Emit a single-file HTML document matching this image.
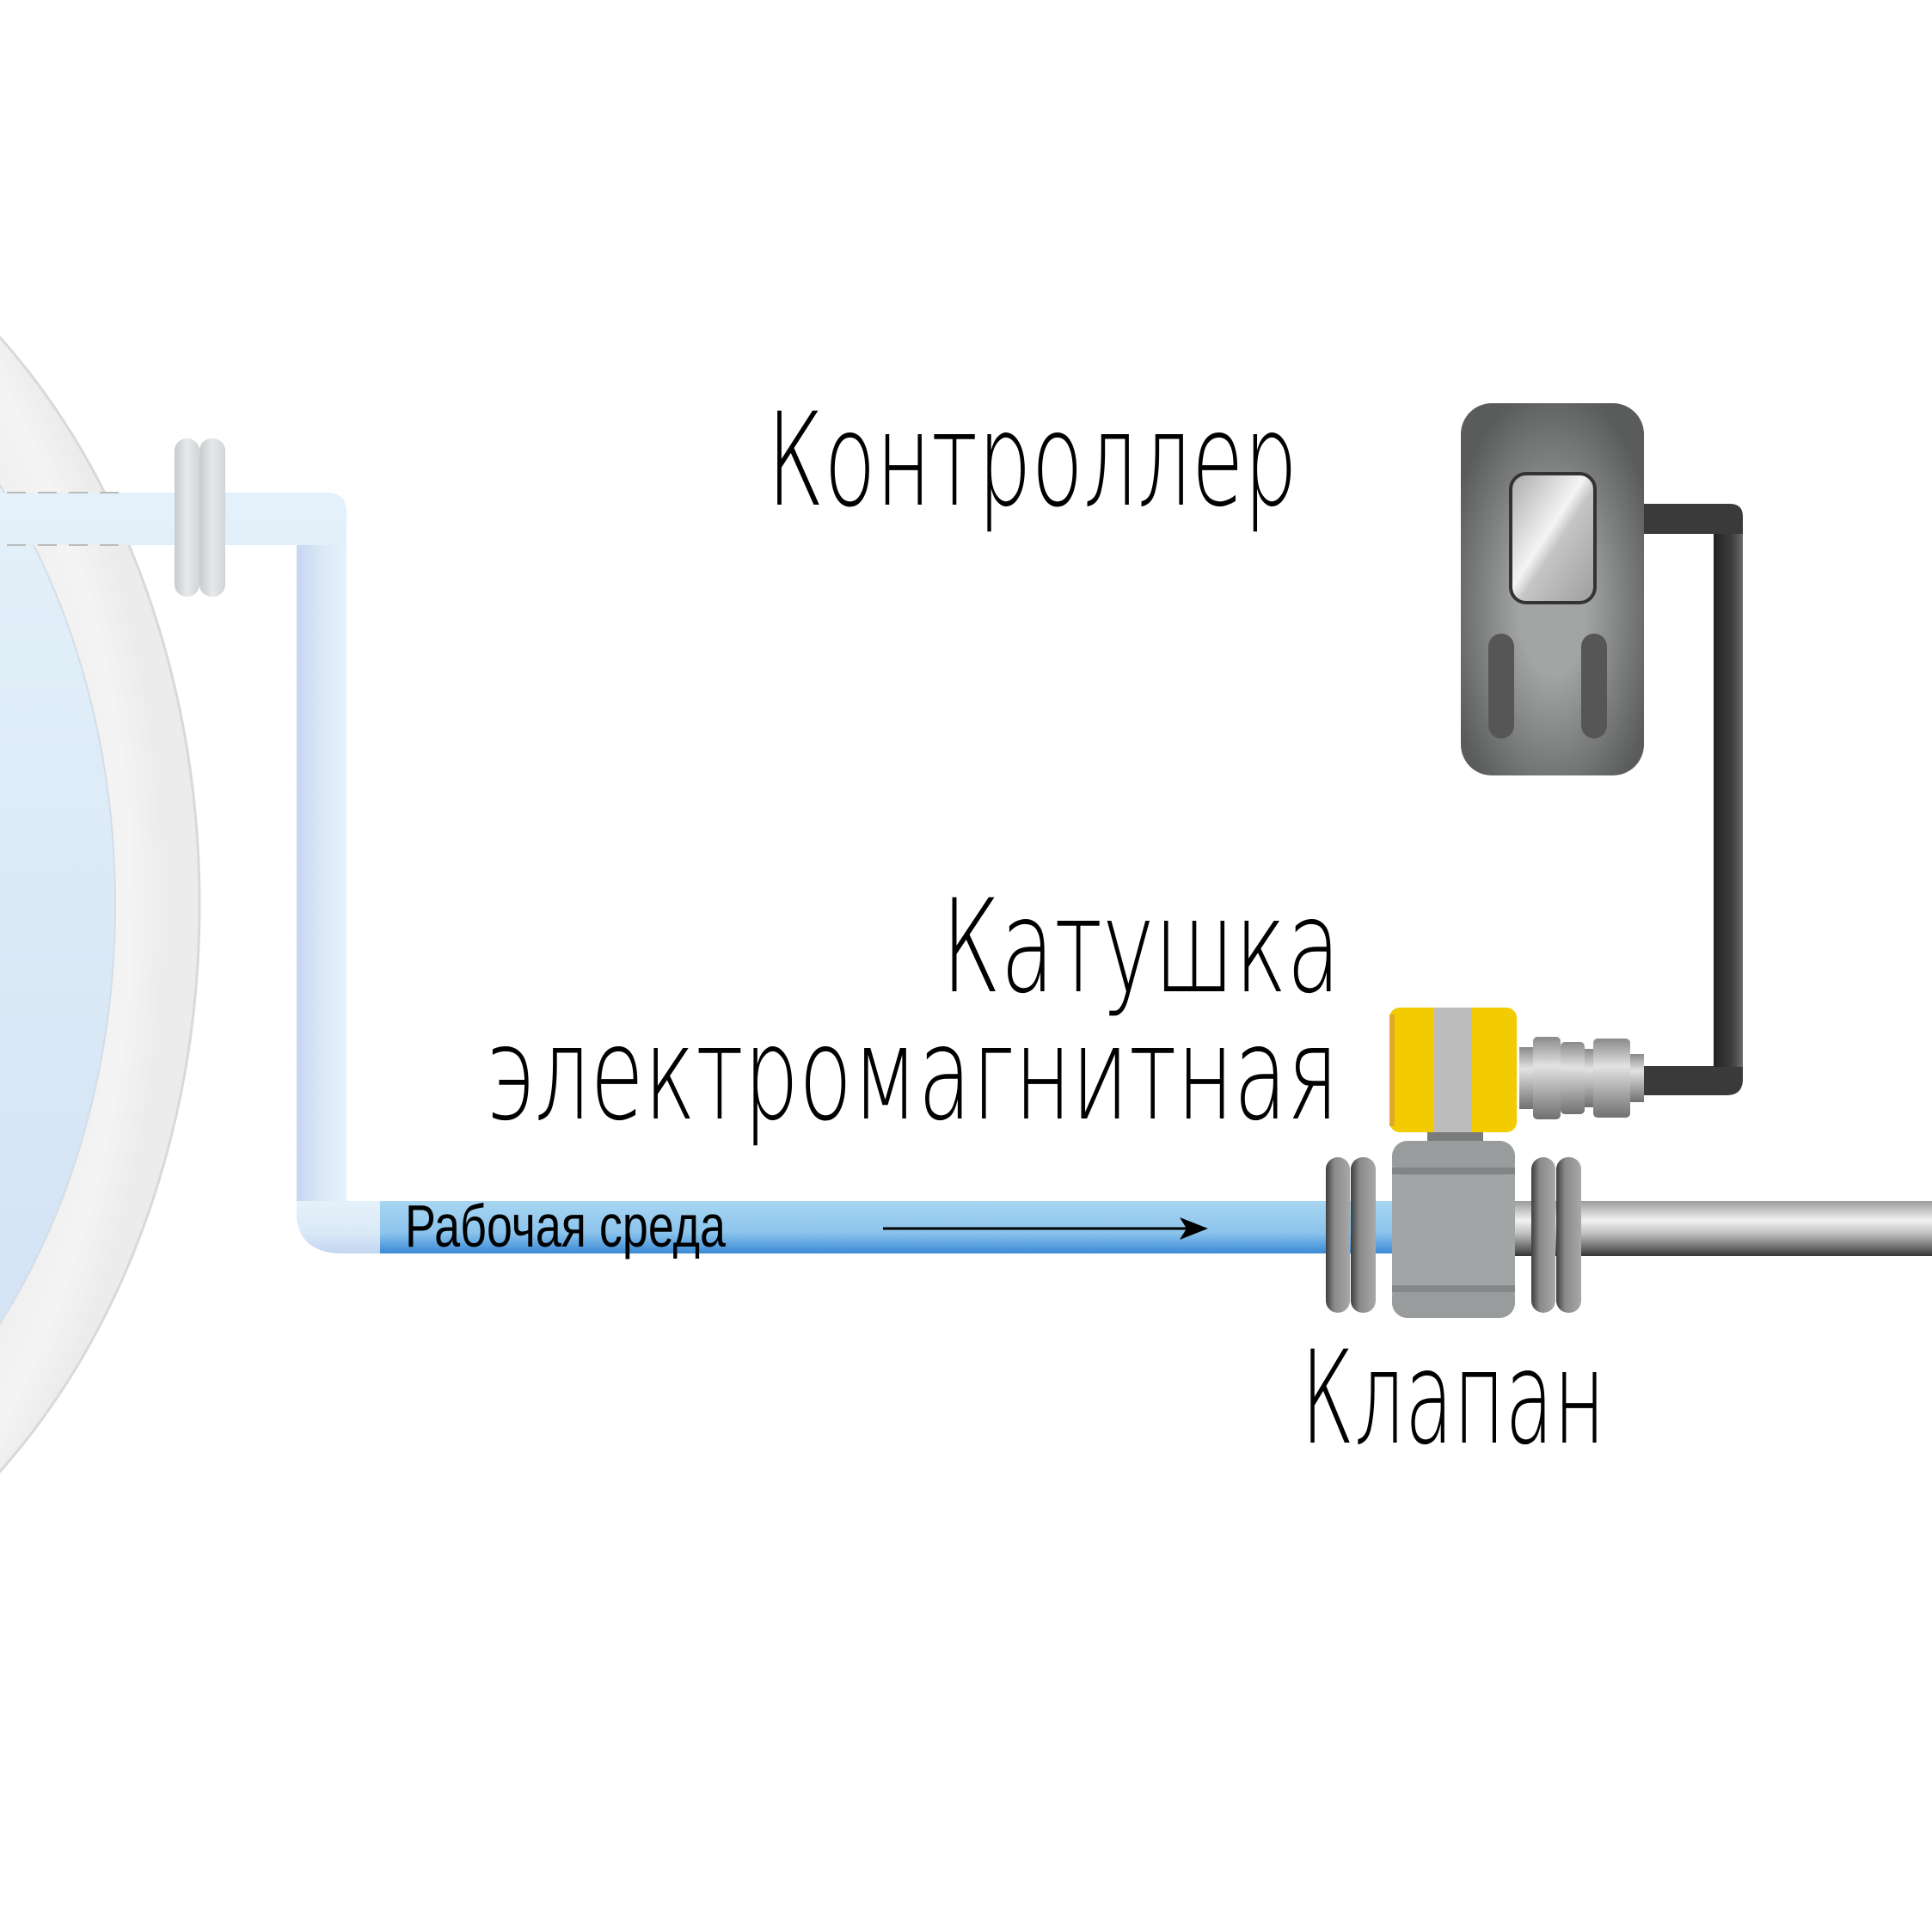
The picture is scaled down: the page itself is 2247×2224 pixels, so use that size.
<!DOCTYPE html>
<html><head><meta charset="utf-8"><style>
html,body{margin:0;padding:0;background:#fff;}
svg{display:block;}
.t{font-family:"DejaVu Sans","Liberation Sans",sans-serif;font-weight:200;fill:#000;}
</style></head><body>
<svg width="2247" height="2224" viewBox="0 0 2247 2224" xmlns="http://www.w3.org/2000/svg">
<defs>
<radialGradient id="ring" cx="0.35" cy="0.5" r="0.62">
<stop offset="0.55" stop-color="#c9c9c9"/><stop offset="0.75" stop-color="#e6e6e6"/><stop offset="0.95" stop-color="#f4f4f4"/><stop offset="1" stop-color="#ececec"/></radialGradient>
<linearGradient id="inner" x1="0" y1="0" x2="0" y2="1"><stop offset="0" stop-color="#e8f4fb"/><stop offset="1" stop-color="#cfe0f3"/></linearGradient>
<linearGradient id="vpipe" x1="0" y1="0" x2="1" y2="0"><stop offset="0" stop-color="#c5d6f0"/><stop offset="0.5" stop-color="#dbe8f6"/><stop offset="1" stop-color="#e6f2fa"/></linearGradient>
<linearGradient id="hpipe" x1="0" y1="0" x2="0" y2="1"><stop offset="0" stop-color="#e4f1fa"/><stop offset="0.6" stop-color="#dbe9f7"/><stop offset="1" stop-color="#c3d5f0"/></linearGradient>
<linearGradient id="blue" x1="0" y1="0" x2="0" y2="1"><stop offset="0" stop-color="#a8d6f2"/><stop offset="0.6" stop-color="#8cc4ec"/><stop offset="1" stop-color="#3a8ad6"/></linearGradient>
<linearGradient id="steel" x1="0" y1="0" x2="0" y2="1"><stop offset="0" stop-color="#9a9a9a"/><stop offset="0.35" stop-color="#f2f2f2"/><stop offset="0.6" stop-color="#bdbdbd"/><stop offset="0.9" stop-color="#5a5a5a"/><stop offset="1" stop-color="#333"/></linearGradient>
<linearGradient id="flange" x1="0" y1="0" x2="1" y2="0"><stop offset="0" stop-color="#3e3e3e"/><stop offset="0.35" stop-color="#8a8a8a"/><stop offset="1" stop-color="#a8a8a8"/></linearGradient>
<linearGradient id="wflange" x1="0" y1="0" x2="1" y2="0"><stop offset="0" stop-color="#c8cbcd"/><stop offset="0.5" stop-color="#e6e8e9"/><stop offset="1" stop-color="#d2d4d5"/></linearGradient>
<radialGradient id="ctrl" cx="0.5" cy="0.55" r="0.6"><stop offset="0.3" stop-color="#a3a5a5"/><stop offset="1" stop-color="#5a5c5c"/></radialGradient>
<linearGradient id="screen" x1="0" y1="0" x2="1" y2="1"><stop offset="0" stop-color="#a9a9a9"/><stop offset="0.45" stop-color="#f4f4f4"/><stop offset="0.55" stop-color="#c5c5c5"/><stop offset="1" stop-color="#9d9d9d"/></linearGradient>
<linearGradient id="cableV" x1="0" y1="0" x2="1" y2="0"><stop offset="0" stop-color="#222"/><stop offset="0.6" stop-color="#3c3c3c"/><stop offset="1" stop-color="#6b6b6b"/></linearGradient>
<linearGradient id="conn" x1="0" y1="0" x2="0" y2="1"><stop offset="0" stop-color="#8a8a8a"/><stop offset="0.35" stop-color="#e2e2e2"/><stop offset="1" stop-color="#707070"/></linearGradient>
</defs>

<ellipse cx="-435" cy="1052" rx="667" ry="870" fill="url(#ring)" stroke="#d9d9d9" stroke-width="3"/>
<ellipse cx="-435" cy="1052" rx="569" ry="756" fill="url(#inner)" stroke="#d4dde6" stroke-width="2"/>

<path d="M0 573 H380 Q403 573 403 596 V1397 H442 V1458 H400 Q345 1458 345 1410 V634 H0 Z" fill="url(#hpipe)"/>
<path d="M345 634 H403 V1397 H345 Z" fill="url(#vpipe)"/>
<path d="M345 1397 H442 V1458 H400 Q345 1458 345 1410 Z" fill="url(#hpipe)"/>
<line x1="8" y1="573" x2="140" y2="573" stroke="#bbb" stroke-width="2" stroke-dasharray="22,14"/>
<line x1="8" y1="634" x2="140" y2="634" stroke="#bbb" stroke-width="2" stroke-dasharray="22,14"/>
<rect x="203" y="510" width="29" height="184" rx="14" fill="url(#wflange)"/>
<rect x="232" y="510" width="30" height="184" rx="14" fill="url(#wflange)"/>

<rect x="442" y="1397" width="1180" height="61" fill="url(#blue)"/>
<text x="471" y="1450" class="t" font-size="70" font-weight="400" style="font-family:'Liberation Sans',sans-serif" textLength="373" lengthAdjust="spacingAndGlyphs">Рабочая среда</text>
<line x1="1027" y1="1429" x2="1385" y2="1429" stroke="#000" stroke-width="3"/>
<path d="M1405 1429 L1372 1416 L1380 1429 L1372 1442 Z" fill="#000"/>

<rect x="1762" y="1397" width="485" height="64" fill="url(#steel)"/>

<rect x="1542" y="1346" width="28" height="181" rx="14" fill="url(#flange)"/>
<rect x="1571" y="1346" width="29" height="181" rx="14" fill="url(#flange)"/>
<rect x="1781" y="1346" width="28" height="181" rx="14" fill="url(#flange)"/>
<rect x="1810" y="1346" width="29" height="181" rx="14" fill="url(#flange)"/>
<rect x="1660" y="1317" width="65" height="15" fill="#7a7c7c"/>
<rect x="1619" y="1327" width="143" height="206" rx="18" fill="#a2a5a5"/>
<rect x="1619" y="1327" width="143" height="40" rx="18" fill="#999c9c"/>
<rect x="1619" y="1358" width="143" height="8" fill="#828585"/>
<rect x="1619" y="1495" width="143" height="38" rx="18" fill="#999c9c"/>
<rect x="1619" y="1495" width="143" height="8" fill="#858888"/>

<rect x="1616" y="1172" width="148" height="145" rx="12" fill="#f2cc00"/>
<rect x="1616" y="1180" width="6" height="130" fill="#e0ac28"/>
<rect x="1668" y="1172" width="44" height="145" fill="#bcbcbc"/>

<rect x="1767" y="1218" width="18" height="72" fill="url(#conn)"/>
<rect x="1783" y="1206" width="32" height="96" rx="5" fill="url(#conn)"/>
<rect x="1815" y="1212" width="28" height="84" rx="5" fill="url(#conn)"/>
<rect x="1843" y="1220" width="10" height="68" fill="url(#conn)"/>
<rect x="1853" y="1208" width="43" height="92" rx="5" fill="url(#conn)"/>
<rect x="1896" y="1226" width="16" height="56" fill="url(#conn)"/>

<path d="M1912 1240 H1993 V621 H1912 V586 H2012 Q2027 586 2027 601 V1255 Q2027 1274 2008 1274 H1912 Z" fill="#3a3a3a"/>
<rect x="1993" y="621" width="34" height="620" fill="url(#cableV)"/>

<rect x="1699" y="469" width="213" height="433" rx="36" fill="url(#ctrl)"/>
<rect x="1757" y="551" width="98" height="150" rx="18" fill="url(#screen)" stroke="#333" stroke-width="4"/>
<rect x="1731" y="737" width="30" height="122" rx="15" fill="#565656"/>
<rect x="1839" y="737" width="30" height="122" rx="15" fill="#565656"/>

<text x="892" y="587" class="t" font-size="150" textLength="617" lengthAdjust="spacingAndGlyphs">Контроллер</text>
<text x="1095" y="1153" class="t" font-size="150" textLength="464" lengthAdjust="spacingAndGlyphs">Катушка</text>
<text x="566" y="1301" class="t" font-size="150" textLength="991" lengthAdjust="spacingAndGlyphs">электромагнитная</text>
<text x="1513" y="1678" class="t" font-size="150" textLength="354" lengthAdjust="spacingAndGlyphs">Клапан</text>
</svg>
</body></html>
